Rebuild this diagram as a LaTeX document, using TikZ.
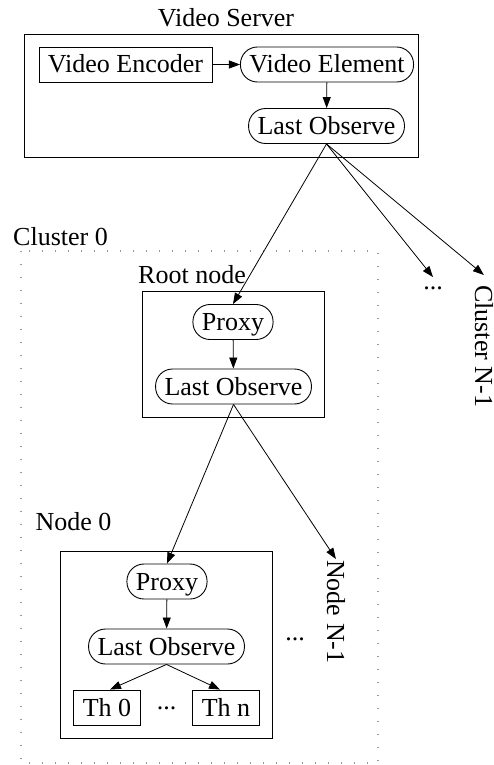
\documentclass[tikz,border=0pt]{standalone}
\usepackage{fontspec}
\setmainfont{Liberation Serif}
\usetikzlibrary{arrows.meta}

\begin{document}
\begin{tikzpicture}[x=1pt,y=-1pt,
    font=\fontsize{26}{31}\selectfont,
    >={Triangle[length=11pt,width=8pt]},
    blk/.style={draw,line width=0.9pt,minimum height=35pt,inner xsep=9pt,inner ysep=0pt,
      text height=17pt,text depth=0pt},
    elem/.style={blk,rounded corners=17pt},
    grp/.style={draw,line width=1pt},
    clst/.style={draw=gray!80,line width=1.2pt,dash pattern=on 1pt off 12pt},
    edge/.style={->,line width=0.8pt}]
    \useasboundingbox (0,0) rectangle (494,765);

    % frames
    \draw [clst] (21,251) rectangle (378,763);
    \draw [grp] (24,35) rectangle (418,157);
    \draw [grp] (142,291) rectangle (324,417);
    \draw [grp] (60,551) rectangle (272,738);

    \node [anchor=base] (srvlbl) at (226,27) {Video Server};
    \node [anchor=base] (clbl) at (60.5,245) {Cluster 0};
    \node [anchor=base] (rootlbl) at (192,283) {Root node};
    \node [anchor=base] (nodelbl) at (73.5,530) {Node 0};

    % server
    \node [blk] (enc) at (125.5,64.5) {Video Encoder};
    \node [elem] (vel) at (327,64.5) {Video Element};
    \node [elem] (vlo) at (326.5,126) {Last Observe};

    % root node
    \node [elem] (rpx) at (233,322) {Proxy};
    \node [elem] (rlo) at (233.5,386.5) {Last Observe};

    % node 0
    \node [elem] (npx) at (167,581.5) {Proxy};
    \node [elem] (nlo) at (166.5,646.5) {Last Observe};
    \node [blk] (th0) at (107,707.5) {Th 0};
    \node [blk] (thn) at (226,707.5) {Th n};
    \node [anchor=base,inner sep=0pt] (thdots) at (166.5,709) {...};

    \node [anchor=base,inner xsep=0pt,inner ysep=9pt] (cdots) at (433,289) {...};
    \node [anchor=base,inner sep=0pt] (ndots) at (295,640) {...};
    \node [rotate=-90,anchor=base west,inner xsep=10pt,inner ysep=0pt] (cn1) at (475,275) {Cluster N-1};
    \node [rotate=-90,anchor=base west,inner xsep=1pt,inner ysep=0pt] (nn1) at (327,559) {Node N-1};

    \draw [edge] (enc) -- (vel);
    \draw [edge] (vel) -- (vlo);
    \draw [edge] (vlo.south) -- (rpx.north);
    \draw [edge] (vlo.south) -- (cdots.north);
    \draw [edge] (vlo.south) -- (cn1.west);
    \draw [edge] (rpx) -- (rlo);
    \draw [edge] (rlo.south) -- (npx.north);
    \draw [edge] (rlo.south) -- (nn1.west);
    \draw [edge] (npx) -- (nlo);
    \draw [edge] (nlo.south) -- ([xshift=3pt]th0.north);
    \draw [edge] (nlo.south) -- ([xshift=-6pt]thn.north);
\end{tikzpicture}
\end{document}
